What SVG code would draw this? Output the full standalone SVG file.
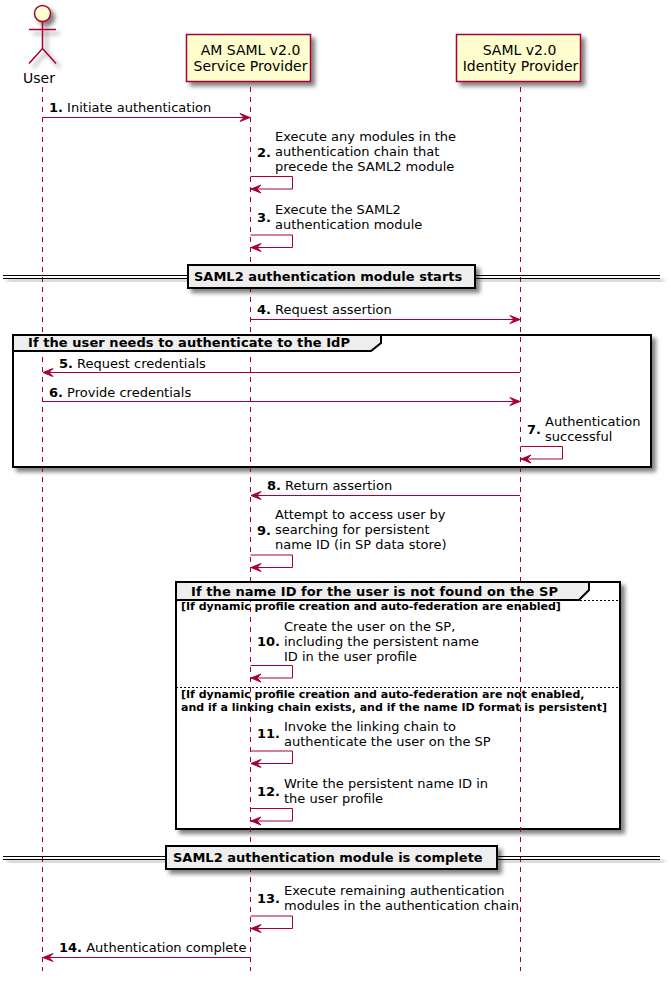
<svg xmlns="http://www.w3.org/2000/svg" width="671" height="986" viewBox="0 0 671 986">
<defs>
<style>
text{font-family:"DejaVu Sans",sans-serif;font-size:13px;fill:#000}
.b{font-weight:bold}
.s{font-size:11px;font-weight:bold}
.t{font-size:14px}
.m{fill:none;stroke:#A80036;stroke-width:1}
.life{stroke:#A80036;stroke-width:1;stroke-dasharray:5,5;fill:none}
.p{fill:#FEFECE;stroke:#A80036;stroke-width:1.5}
.d{fill:#EEEEEE;stroke:#000;stroke-width:2}
.g{fill:#fff;stroke:#000;stroke-width:2}
.e{stroke:#000;stroke-width:1;stroke-dasharray:2,2;fill:none}
.dl{stroke:#000;stroke-width:1;fill:none}
.c{text-anchor:middle}
</style>
<filter id="sh" x="-20%" y="-50%" width="150%" height="250%"><feGaussianBlur in="SourceAlpha" stdDeviation="2"/><feOffset dx="4" dy="4"/><feComponentTransfer><feFuncA type="linear" slope="0.5"/></feComponentTransfer><feMerge><feMergeNode/><feMergeNode in="SourceGraphic"/></feMerge></filter>
<marker id="ar" viewBox="0 0 13 10" markerUnits="userSpaceOnUse" markerWidth="13" markerHeight="10" refX="12" refY="5" orient="auto"><path d="M2 1 L12 5 L2 9 L6 5 Z" fill="#A80036" stroke="#A80036"/></marker>
</defs>
<rect width="671" height="986" fill="#fff"/>
<g id="group-frames">
<rect class="g" x="13" y="335" width="638" height="132" filter="url(#sh)"/>
<rect class="g" x="176" y="582" width="444" height="247" filter="url(#sh)"/>
</g>
<g id="lifelines">
<path class="life" d="M42.5 87V971"/>
<path class="life" d="M250.5 87V971"/>
<path class="life" d="M520.5 87V971"/>
</g>
<g id="group-idp">
<path class="d" d="M13 335H381V343L371 351H13Z"/>
<text x="28" y="347" class="b" textLength="322">If the user needs to authenticate to the IdP</text>
</g>
<g id="group-nameid">
<path class="d" d="M176 582H589V590L579 600H176Z"/>
<text x="191" y="596" class="b" textLength="367">If the name ID for the user is not found on the SP</text>
<path class="e" d="M176 600.5H620"/>
<path class="e" d="M176 687.5H620"/>
<text x="181" y="610" class="s">[If dynamic profile creation and auto-federation are enabled]</text>
<text x="181" y="698" class="s">[If dynamic profile creation and auto-federation are not enabled,</text>
<text x="181" y="711" class="s" textLength="426">and if a linking chain exists, and if the name ID format is persistent]</text>
</g>
<g id="user">
<g class="p" filter="url(#sh)">
<circle cx="42.5" cy="13.5" r="8"/>
<path fill="none" d="M42.5 21.5V48.5M29 29.5H56M42.5 48.5L29 63.5M42.5 48.5L56 63.5"/>
</g>
<text x="39" y="83" class="c t">User</text>
</g>
<g id="sp">
<rect class="p" x="186.5" y="34.5" width="124" height="47" filter="url(#sh)"/>
<text x="250.5" y="55" class="c t">AM SAML v2.0</text>
<text x="250.5" y="71" class="c t">Service Provider</text>
</g>
<g id="idp">
<rect class="p" x="456.5" y="34.5" width="124" height="47" filter="url(#sh)"/>
<text x="519.5" y="55" class="c t">SAML v2.0</text>
<text x="520.5" y="71" class="c t">Identity Provider</text>
</g>
<g id="divider-start">
<path class="dl" d="M3 275.5H188M3 278.5H188M475 275.5H660M475 278.5H660" filter="url(#sh)"/>
<rect class="d" x="188" y="265" width="287" height="23" filter="url(#sh)"/>
<text x="194" y="281" class="b">SAML2 authentication module starts</text>
</g>
<g id="divider-end">
<path class="dl" d="M3 856.5H166M3 859.5H166M497 856.5H660M497 859.5H660" filter="url(#sh)"/>
<rect class="d" x="166" y="846" width="331" height="23" filter="url(#sh)"/>
<text x="173" y="862" class="b">SAML2 authentication module is complete</text>
</g>
<g id="connectors">
<path class="m" marker-end="url(#ar)" d="M42.5 117.5H250"/>
<path class="m" marker-end="url(#ar)" d="M250.5 176.5H292.5V189H251"/>
<path class="m" marker-end="url(#ar)" d="M250.5 235H292.5V247.5H251"/>
<path class="m" marker-end="url(#ar)" d="M250.5 319.5H520"/>
<path class="m" marker-end="url(#ar)" d="M520 372.5H43"/>
<path class="m" marker-end="url(#ar)" d="M42.5 401.5H520"/>
<path class="m" marker-end="url(#ar)" d="M520.5 446.5H562.5V459H521"/>
<path class="m" marker-end="url(#ar)" d="M520 495.5H251"/>
<path class="m" marker-end="url(#ar)" d="M250.5 555H292.5V567.5H251"/>
<path class="m" marker-end="url(#ar)" d="M250.5 665.5H292.5V678H251"/>
<path class="m" marker-end="url(#ar)" d="M250.5 751H292.5V763.5H251"/>
<path class="m" marker-end="url(#ar)" d="M250.5 808.5H292.5V821H251"/>
<path class="m" marker-end="url(#ar)" d="M250.5 916H292.5V928.5H251"/>
<path class="m" marker-end="url(#ar)" d="M250 957.5H43"/>
</g>
<g id="labels">
<text x="49" y="112"><tspan class="b">1.</tspan> Initiate authentication</text>
<text x="257" y="157" class="b">2.</text>
<text x="275" y="141">Execute any modules in the</text>
<text x="275" y="156">authentication chain that</text>
<text x="275" y="171">precede the SAML2 module</text>
<text x="257" y="222" class="b">3.</text>
<text x="275" y="214">Execute the SAML2</text>
<text x="275" y="229">authentication module</text>
<text x="257" y="314"><tspan class="b">4.</tspan> Request assertion</text>
<text x="59" y="368"><tspan class="b">5.</tspan> Request credentials</text>
<text x="49" y="397"><tspan class="b">6.</tspan> Provide credentials</text>
<text x="527" y="434" class="b">7.</text>
<text x="545" y="426">Authentication</text>
<text x="545" y="441">successful</text>
<text x="267" y="490"><tspan class="b">8.</tspan> Return assertion</text>
<text x="257" y="535" class="b">9.</text>
<text x="275" y="519">Attempt to access user by</text>
<text x="275" y="534">searching for persistent</text>
<text x="275" y="549">name ID (in SP data store)</text>
<text x="257" y="646" class="b">10.</text>
<text x="284" y="631">Create the user on the SP,</text>
<text x="284" y="646">including the persistent name</text>
<text x="284" y="661">ID in the user profile</text>
<text x="257" y="738" class="b">11.</text>
<text x="284" y="731">Invoke the linking chain to</text>
<text x="284" y="746">authenticate the user on the SP</text>
<text x="257" y="796" class="b">12.</text>
<text x="284" y="788">Write the persistent name ID in</text>
<text x="284" y="803">the user profile</text>
<text x="257" y="903" class="b">13.</text>
<text x="284" y="895">Execute remaining authentication</text>
<text x="284" y="910">modules in the authentication chain</text>
<text x="59" y="952"><tspan class="b">14.</tspan> Authentication complete</text>
</g>
</svg>
